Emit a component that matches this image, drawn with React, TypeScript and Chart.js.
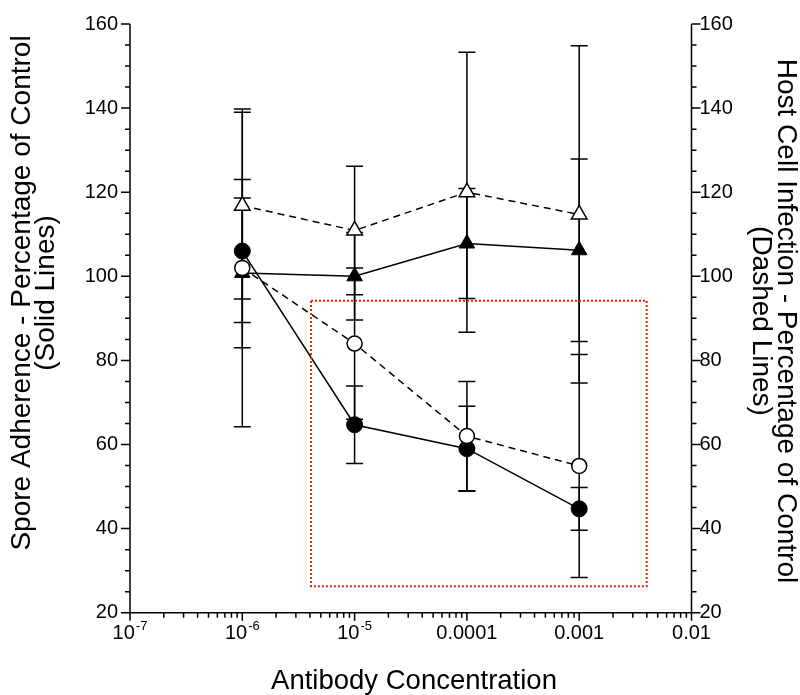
import React, { useEffect, useRef } from 'react';
import { Chart, registerables } from 'chart.js';

Chart.register(...registerables);

// ---- data ----
const concentrations = [1e-6, 1e-5, 1e-4, 1e-3];

// Spore adherence (solid lines, left axis)
const adherenceFilledCircle = [106, 64.7, 59, 44.7];
const adherenceFilledCircleErr = [17, 9.2, 10.1, 5.1];
const adherenceFilledTriangle = [100.8, 100, 107.8, 106.2];
const adherenceFilledTriangleErr = [17.8, 10.4, 13.1, 21.7];

// Host cell infection (dashed lines, right axis)
const infectionOpenCircle = [102, 84, 62, 54.9];
const infectionOpenCircleErr = [37.8, 18, 13, 26.5];
const infectionOpenTriangle = [116.8, 110.9, 120, 114.7];
const infectionOpenTriangleErr = [22.2, 15.3, 33.3, 40.1];

// ticks
const xTickValues = [1e-7, 1e-6, 1e-5, 1e-4, 1e-3, 1e-2];
const xTickBase = ['10', '10', '10', '0.0001', '0.001', '0.01'];
const xTickExp = ['-7', '-6', '-5', '', '', ''];
const xMin = 1e-7;
const xMax = 1e-2;
const yMin = 20;
const yMax = 160;
const yStep = 20;
const yMinorStep = 5;

// highlighted region (data units)
const boxXRange = [4.09e-6, 3.99e-3];
const boxYRange = [26.3, 94.2];

const leftTitle = ['Spore Adherence - Percentage of Control', '(Solid Lines)'];
const rightTitle = ['Host Cell Infection - Percentage of Control', '(Dashed Lines)'];
const bottomTitle = 'Antibody Concentration';

const FONT = "'Liberation Sans', Arial, Helvetica, sans-serif";

const toPoints = (ys: number[]) => ys.map((y, i) => ({ x: concentrations[i], y }));

const errorSets = [
  infectionOpenCircleErr,
  infectionOpenTriangleErr,
  adherenceFilledCircleErr,
  adherenceFilledTriangleErr,
];

const customPlugin = {
  id: 'customDecor',
  beforeDatasetsDraw(chart: any) {
    const ctx = chart.ctx;
    const xs = chart.scales.x;
    ctx.save();
    ctx.strokeStyle = '#000';
    ctx.lineWidth = 1.5;
    chart.data.datasets.forEach((ds: any, i: number) => {
      const ys = chart.scales[ds.yAxisID];
      const errs = errorSets[i];
      ds.data.forEach((p: any, j: number) => {
        const e = errs[j];
        const x = xs.getPixelForValue(p.x);
        const yt = ys.getPixelForValue(p.y + e);
        const yb = ys.getPixelForValue(p.y - e);
        ctx.beginPath();
        ctx.moveTo(x, yt);
        ctx.lineTo(x, yb);
        ctx.moveTo(x - 8.5, yt);
        ctx.lineTo(x + 8.5, yt);
        ctx.moveTo(x - 8.5, yb);
        ctx.lineTo(x + 8.5, yb);
        ctx.stroke();
      });
    });
    ctx.restore();
  },
  afterDraw(chart: any) {
    const ctx = chart.ctx;
    const xs = chart.scales.x;
    const yl = chart.scales.y;
    const { left, right, top, bottom } = chart.chartArea;
    ctx.save();

    // highlight box
    ctx.strokeStyle = 'rgb(255,30,0)';
    ctx.lineWidth = 2;
    ctx.setLineDash([2, 2]);
    const bx0 = xs.getPixelForValue(boxXRange[0]);
    const bx1 = xs.getPixelForValue(boxXRange[1]);
    const by0 = yl.getPixelForValue(boxYRange[1]);
    const by1 = yl.getPixelForValue(boxYRange[0]);
    ctx.strokeRect(bx0, by0, bx1 - bx0, by1 - by0);
    ctx.setLineDash([]);

    // axes lines
    ctx.strokeStyle = '#000';
    ctx.lineWidth = 1.5;
    ctx.beginPath();
    ctx.moveTo(left, top);
    ctx.lineTo(left, bottom);
    ctx.lineTo(right, bottom);
    ctx.lineTo(right, top);
    ctx.stroke();

    // y ticks
    ctx.beginPath();
    for (let v = yMin; v <= yMax + 1e-9; v += yMinorStep) {
      const y = yl.getPixelForValue(v);
      const len = v % yStep === 0 ? 9 : 5;
      ctx.moveTo(left, y);
      ctx.lineTo(left - len, y);
      ctx.moveTo(right, y);
      ctx.lineTo(right + len, y);
    }
    // x ticks
    for (let d = -7; d <= -2; d++) {
      for (let m = 1; m <= 9; m++) {
        const v = m * Math.pow(10, d);
        if (v > xMax * 1.0001) break;
        const x = xs.getPixelForValue(v);
        const len = m === 1 ? 8 : 5;
        ctx.moveTo(x, bottom);
        ctx.lineTo(x, bottom + len);
      }
    }
    ctx.stroke();

    // x tick labels
    ctx.fillStyle = '#000';
    ctx.textBaseline = 'alphabetic';
    ctx.textAlign = 'left';
    xTickValues.forEach((v, i) => {
      const x = xs.getPixelForValue(v);
      ctx.font = `20px ${FONT}`;
      const wb = ctx.measureText(xTickBase[i]).width;
      let we = 0;
      if (xTickExp[i]) {
        ctx.font = `13px ${FONT}`;
        we = ctx.measureText(xTickExp[i]).width + 1;
      }
      const start = x - (wb + we) / 2;
      ctx.font = `20px ${FONT}`;
      ctx.fillText(xTickBase[i], start, 639);
      if (xTickExp[i]) {
        ctx.font = `13px ${FONT}`;
        ctx.fillText(xTickExp[i], start + wb + 1, 630);
      }
    });

    // titles
    ctx.font = `28px ${FONT}`;
    ctx.textAlign = 'center';
    ctx.textBaseline = 'middle';
    const leftX = [22, 46.5];
    leftTitle.forEach((t, i) => {
      ctx.save();
      ctx.translate(leftX[i], 293);
      ctx.rotate(-Math.PI / 2);
      ctx.fillText(t, 0, 0);
      ctx.restore();
    });
    const rightX = [786, 761];
    rightTitle.forEach((t, i) => {
      ctx.save();
      ctx.translate(rightX[i], 321);
      ctx.rotate(Math.PI / 2);
      ctx.fillText(t, 0, 0);
      ctx.restore();
    });
    ctx.font = `27.5px ${FONT}`;
    ctx.textBaseline = 'alphabetic';
    ctx.fillText(bottomTitle, 414, 689);

    ctx.restore();
  },
};

export default function App() {
  const ref = useRef<HTMLCanvasElement>(null);
  useEffect(() => {
    const canvas = ref.current!;
    const tickFont = { family: FONT, size: 20 };
    const chart = new Chart(canvas, {
      type: 'line',
      data: {
        datasets: [
          {
            label: 'Infection (open circle)',
            data: toPoints(infectionOpenCircle),
            yAxisID: 'y2',
            borderColor: '#000',
            borderWidth: 1.5,
            borderDash: [7, 5],
            pointStyle: 'circle',
            pointRadius: 7.5,
            pointBackgroundColor: '#fff',
            pointBorderColor: '#000',
            pointBorderWidth: 1.5,
            fill: false,
            tension: 0,
          },
          {
            label: 'Infection (open triangle)',
            data: toPoints(infectionOpenTriangle),
            yAxisID: 'y2',
            borderColor: '#000',
            borderWidth: 1.5,
            borderDash: [7, 5],
            pointStyle: 'triangle',
            pointRadius: 9,
            pointBackgroundColor: '#fff',
            pointBorderColor: '#000',
            pointBorderWidth: 1.5,
            fill: false,
            tension: 0,
          },
          {
            label: 'Adherence (filled circle)',
            data: toPoints(adherenceFilledCircle),
            yAxisID: 'y',
            borderColor: '#000',
            borderWidth: 1.5,
            pointStyle: 'circle',
            pointRadius: 8,
            pointBackgroundColor: '#000',
            pointBorderColor: '#000',
            pointBorderWidth: 1,
            fill: false,
            tension: 0,
          },
          {
            label: 'Adherence (filled triangle)',
            data: toPoints(adherenceFilledTriangle),
            yAxisID: 'y',
            borderColor: '#000',
            borderWidth: 1.5,
            pointStyle: 'triangle',
            pointRadius: 9,
            pointBackgroundColor: '#000',
            pointBorderColor: '#000',
            pointBorderWidth: 1,
            fill: false,
            tension: 0,
          },
        ],
      },
      options: {
        responsive: false,
        animation: false,
        layout: { padding: { top: 21.5, left: 0, right: 0, bottom: 0 } },
        plugins: { legend: { display: false }, tooltip: { enabled: false } },
        scales: {
          x: {
            type: 'logarithmic',
            min: xMin,
            max: xMax,
            ticks: { display: false },
            grid: { display: false, drawTicks: false },
            border: { display: false },
            afterFit: (s: any) => {
              s.height = 82.3;
            },
          },
          y: {
            type: 'linear',
            position: 'left',
            min: yMin,
            max: yMax,
            ticks: { stepSize: yStep, font: tickFont, color: '#000', padding: 12 },
            grid: { display: false, drawTicks: false },
            border: { display: false },
            afterFit: (s: any) => {
              s.width = 130;
            },
          },
          y2: {
            type: 'linear',
            position: 'right',
            min: yMin,
            max: yMax,
            ticks: { stepSize: yStep, font: tickFont, color: '#000', padding: 8 },
            grid: { display: false, drawTicks: false },
            border: { display: false },
            afterFit: (s: any) => {
              s.width = 108.5;
            },
          },
        },
      } as any,
      plugins: [customPlugin],
    });
    return () => chart.destroy();
  }, []);
  return (
    <div style={{ position: 'fixed', left: 0, top: 0, width: 800, height: 695, background: '#fff' }}>
      <canvas ref={ref} width={800} height={695} style={{ display: 'block' }} />
    </div>
  );
}
